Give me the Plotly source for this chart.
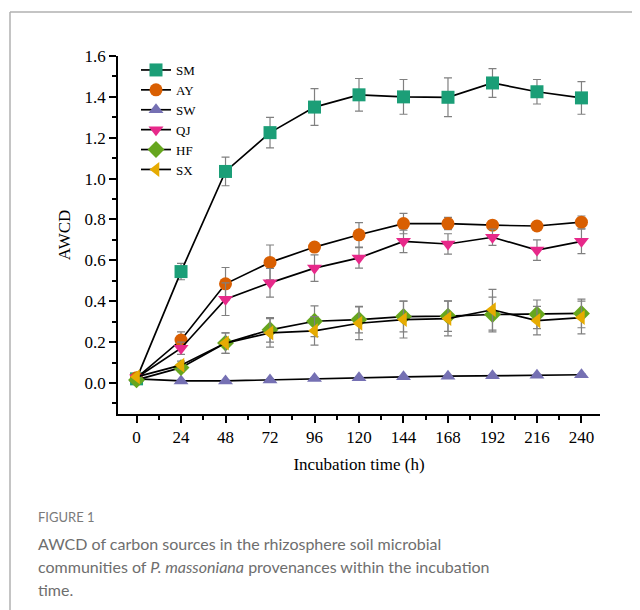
import plotly.graph_objects as go

hours = [0, 24, 48, 72, 96, 120, 144, 168, 192, 216, 240]
x_ticks = hours

series_names = ["SM", "AY", "SW", "QJ", "HF", "SX"]
sm = [0.020, 0.545, 1.035, 1.225, 1.350, 1.410, 1.400, 1.398, 1.468, 1.425, 1.395]
sm_err = [0.005, 0.040, 0.070, 0.075, 0.090, 0.080, 0.085, 0.095, 0.070, 0.060, 0.080]
ay = [0.025, 0.210, 0.485, 0.590, 0.665, 0.725, 0.780, 0.780, 0.772, 0.768, 0.787]
ay_err = [0.005, 0.040, 0.080, 0.085, 0.020, 0.060, 0.050, 0.030, 0.020, 0.020, 0.030]
sw = [0.020, 0.010, 0.010, 0.015, 0.022, 0.026, 0.030, 0.033, 0.035, 0.038, 0.040]
sw_err = [0.003, 0.003, 0.003, 0.004, 0.004, 0.004, 0.004, 0.004, 0.004, 0.004, 0.004]
qj = [0.025, 0.170, 0.410, 0.490, 0.562, 0.612, 0.693, 0.680, 0.713, 0.650, 0.693]
qj_err = [0.005, 0.030, 0.080, 0.070, 0.065, 0.050, 0.055, 0.050, 0.040, 0.050, 0.060]
hf = [0.015, 0.075, 0.195, 0.260, 0.302, 0.310, 0.325, 0.327, 0.335, 0.336, 0.340]
hf_err = [0.005, 0.020, 0.050, 0.060, 0.075, 0.065, 0.075, 0.075, 0.085, 0.070, 0.070]
sx = [0.030, 0.087, 0.195, 0.245, 0.255, 0.292, 0.310, 0.315, 0.358, 0.305, 0.320]
sx_err = [0.005, 0.020, 0.050, 0.070, 0.070, 0.080, 0.090, 0.085, 0.100, 0.070, 0.080]

colors = ["#1b9e77", "#d95f02", "#7570b3", "#e7298a", "#66a61e", "#e6ab02"]
symbols = ["square", "circle", "triangle-up", "triangle-down", "diamond", "triangle-left"]
values = [sm, ay, sw, qj, hf, sx]
errors = [sm_err, ay_err, sw_err, qj_err, hf_err, sx_err]

serif = "Liberation Serif, Times New Roman, serif"

fig = go.Figure()
for name, y, e, c, s in zip(series_names, values, errors, colors, symbols):
    fig.add_trace(go.Scatter(
        x=hours, y=y, name=name, mode="lines+markers",
        line=dict(color="black", width=1.7),
        marker=dict(symbol=s, color=c, size=13, line=dict(width=0)),
        error_y=dict(type="data", array=e, visible=True, color="#808080",
                     thickness=1.2, width=4),
    ))

# page has an 8px body margin: layout pixel = page pixel - 8
OFF = 8
W, H = 640, 610
L = 118 - OFF
T = 56 - OFF
R = W - (600 - OFF)
B = H - (414 - OFF)
pw, ph = W - L - R, H - T - B

def px(xp):
    return (xp - OFF - L) / pw

def py(yp):
    return (H - B - (yp - OFF)) / ph

fig.update_layout(
    width=W, height=H,
    margin=dict(l=L, r=R, t=T, b=B),
    paper_bgcolor="white", plot_bgcolor="white",
    font=dict(family=serif, color="black", size=17),
    showlegend=True,
    legend=dict(x=px(136), y=py(55), xanchor="left", yanchor="top",
                bgcolor="rgba(0,0,0,0)", font=dict(family=serif, size=13),
                tracegroupgap=0, itemwidth=30),
    xaxis=dict(
        range=[-10, 250], tickmode="array", tickvals=x_ticks,
        ticktext=[str(v) for v in x_ticks],
        showgrid=False, zeroline=False, showline=True, linecolor="black",
        linewidth=1.5, ticks="outside", ticklen=7, tickwidth=1.5,
        tickcolor="black", tickfont=dict(size=17, family=serif),
        minor=dict(ticks="outside", dtick=12, tick0=0, ticklen=4,
                   tickwidth=1.5, tickcolor="black"),
        title=dict(text="Incubation time (h)", font=dict(size=17, family=serif),
                   standoff=12),
    ),
    yaxis=dict(
        range=[-0.152, 1.6], tickmode="array",
        tickvals=[0, 0.2, 0.4, 0.6, 0.8, 1.0, 1.2, 1.4, 1.6],
        ticktext=["0.0", "0.2", "0.4", "0.6", "0.8", "1.0", "1.2", "1.4", "1.6"],
        showgrid=False, zeroline=False, showline=True, linecolor="black",
        linewidth=1.5, ticks="outside", ticklen=7, tickwidth=1.5,
        tickcolor="black", tickfont=dict(size=17, family=serif),
        minor=dict(ticks="outside", dtick=0.1, tick0=-0.1, ticklen=4,
                   tickwidth=1.5, tickcolor="black"),
        title=dict(text="AWCD", font=dict(size=17, family=serif), standoff=10),
    ),
)

# card border (left and top)
fig.add_shape(type="line", xref="paper", yref="paper",
              x0=px(10), x1=px(10), y0=py(12), y1=py(640),
              line=dict(color="#b0b0b0", width=1.5))
fig.add_shape(type="line", xref="paper", yref="paper",
              x0=px(10), x1=px(660), y0=py(12), y1=py(12),
              line=dict(color="#b0b0b0", width=1.5))

sans = "Lato, Noto Sans, sans-serif"
fig.add_annotation(xref="paper", yref="paper", x=px(36), y=py(517),
                   xanchor="left", yanchor="middle", showarrow=False,
                   text="FIGURE 1", font=dict(family=sans, size=13, color="#7a7a7a"))
caption_lines = [
    "AWCD of carbon sources in the rhizosphere soil microbial",
    "communities of <i>P. massoniana</i> provenances within the incubation",
    "time.",
]
for i, line in enumerate(caption_lines):
    fig.add_annotation(xref="paper", yref="paper", x=px(36), y=py(543 + 23 * i),
                       xanchor="left", yanchor="middle", showarrow=False,
                       text=line, font=dict(family=sans, size=16, color="#6e6e6e"))

fig.write_html("out.html")
